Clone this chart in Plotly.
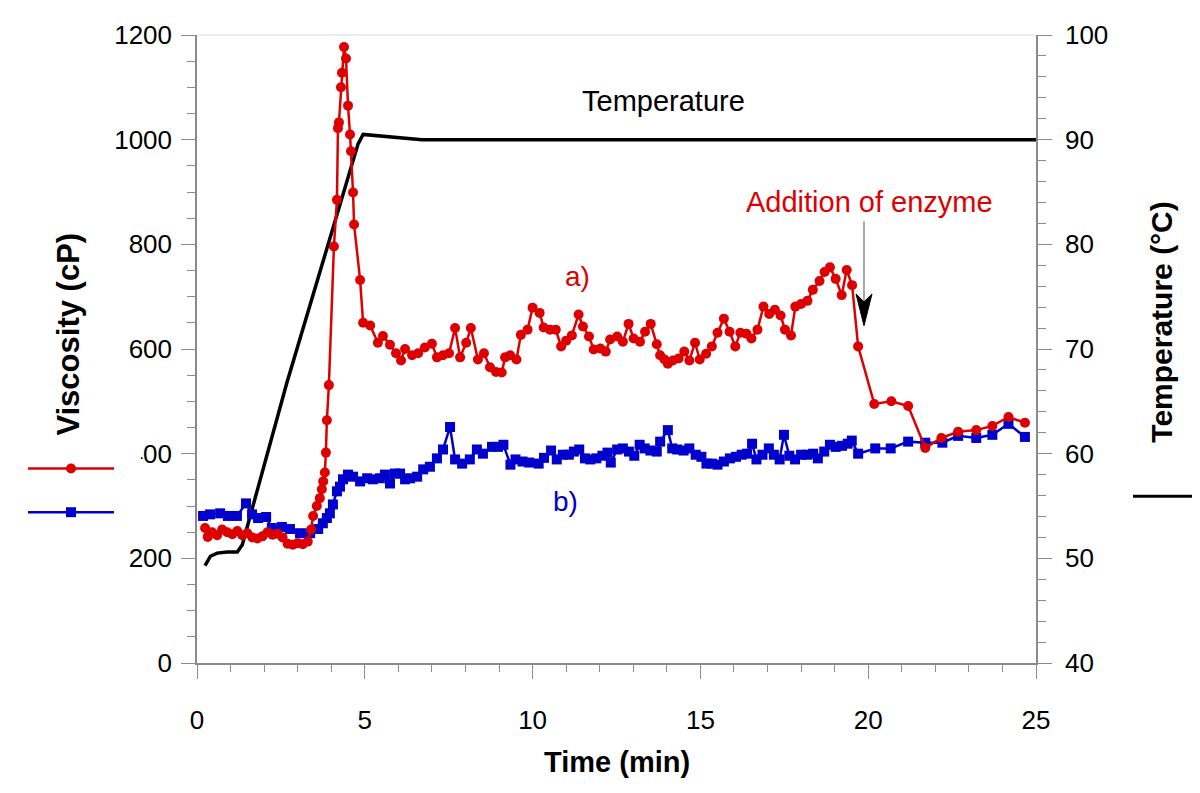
import plotly.graph_objects as go

# a) viscosity (cP) vs time (min)
time_a = [0.24, 0.32, 0.45, 0.6, 0.75, 0.9, 1.05, 1.2, 1.35, 1.5, 1.65, 1.8, 1.95, 2.1, 2.25,
          2.4, 2.55, 2.7, 2.85, 3.0, 3.15, 3.3, 3.4, 3.46, 3.57, 3.66, 3.72, 3.76, 3.81, 3.84,
          3.87, 3.93, 4.08, 4.17, 4.2, 4.23, 4.29, 4.32, 4.38, 4.44, 4.5, 4.56, 4.59, 4.65,
          4.68, 4.86, 4.95, 5.16, 5.39, 5.54, 5.75, 5.93, 6.08, 6.2, 6.41, 6.59, 6.79, 7.0,
          7.15, 7.33, 7.51, 7.69, 7.84, 8.02, 8.16, 8.37, 8.55, 8.73, 8.91,
          9.08, 9.18, 9.33, 9.52, 9.65, 9.85, 10.0, 10.21, 10.33, 10.52, 10.69, 10.85, 11.0,
          11.17, 11.37, 11.5, 11.68, 11.82, 12.02, 12.18, 12.31, 12.52, 12.69, 12.86, 13.01,
          13.2, 13.35, 13.52, 13.7, 13.8, 13.93, 14.03, 14.18, 14.35, 14.52, 14.67, 14.84,
          14.98, 15.17, 15.34, 15.51, 15.7, 15.87, 16.04, 16.19, 16.37, 16.52, 16.7, 16.88,
          17.05, 17.22, 17.39, 17.52, 17.7, 17.83, 18.0, 18.19, 18.35, 18.55, 18.7, 18.86,
          19.03, 19.21, 19.36, 19.52, 19.7, 20.18, 20.69, 21.19, 21.7, 22.18, 22.68, 23.22,
          23.7, 24.18, 24.67]
visc_a = [258, 241, 250, 244, 255, 250, 246, 252, 244, 248, 240, 238, 242, 250, 245,
          247, 240, 228, 226, 229, 227, 232, 255, 281, 300, 315, 332, 347, 364, 402,
          464, 531, 796, 885, 1022, 1033, 1100, 1128, 1177, 1155, 1065, 1010, 978, 899,
          838, 732, 650, 645, 612, 625, 608, 592, 578, 600, 588, 592, 603, 610,
          584, 588, 592, 640, 584, 612, 640, 580, 592, 565, 556,
          555, 584, 588, 580, 627, 637, 679, 669, 641, 637, 637, 605, 616,
          626, 666, 643, 624, 599, 601, 595, 618, 624, 614, 648, 620,
          614, 633, 648, 609, 588, 580, 572, 578, 582, 595, 578, 612,
          580, 591, 605, 631, 658, 633, 605, 631, 629, 620, 637, 681,
          667, 675, 664, 637, 626, 681, 686, 692, 713, 730, 747, 756,
          734, 703, 751, 722, 605, 495, 500, 491, 411, 430, 442, 445,
          453, 470, 459]

# b) viscosity (cP) vs time (min)
time_b = [0.18, 0.39, 0.69, 0.92, 1.19, 1.46, 1.64, 1.82, 2.06, 2.23, 2.53, 2.77, 3.07, 3.37,
          3.61, 3.75, 3.87, 3.96, 4.05, 4.17, 4.26, 4.35, 4.5, 4.65, 4.86, 5.07, 5.24, 5.45,
          5.6, 5.75, 5.9, 6.05, 6.2, 6.35, 6.56, 6.74, 6.94, 7.15, 7.33, 7.54, 7.69, 7.9,
          8.13, 8.34, 8.52, 8.79, 8.97, 9.13, 9.34, 9.49, 9.7, 9.9, 10.18, 10.34, 10.55,
          10.72, 10.9, 11.08, 11.23, 11.39, 11.56, 11.72, 11.9, 12.08, 12.23, 12.33, 12.52,
          12.69, 12.87, 13.03, 13.19, 13.34, 13.51, 13.7, 13.8, 14.03, 14.16, 14.31, 14.5,
          14.67, 14.86, 15.03, 15.18, 15.34, 15.51, 15.7, 15.88, 16.06, 16.23, 16.39, 16.54,
          16.67, 16.85, 17.04, 17.19, 17.36, 17.49, 17.65, 17.82, 18.0, 18.18, 18.36, 18.5,
          18.69, 18.86, 19.03, 19.22, 19.39, 19.51, 19.7, 20.21, 20.67, 21.19, 21.7, 22.21,
          22.68, 23.22, 23.7, 24.18, 24.67]
visc_b = [281, 284, 286, 281, 281, 305, 284, 277, 279, 258, 260, 256, 248, 248,
          256, 267, 277, 286, 303, 328, 337, 351, 360, 356, 347, 353, 351, 353,
          360, 343, 362, 362, 351, 353, 356, 370, 375, 391, 408, 451, 389, 381,
          389, 408, 400, 413, 413, 417, 379, 389, 385, 383, 381, 392, 406,
          389, 398, 398, 404, 408, 391, 389, 391, 396, 402, 383, 408,
          410, 404, 396, 417, 410, 406, 404, 423, 445, 410, 408, 406,
          410, 398, 394, 381, 381, 379, 385, 391, 394, 398, 400, 419,
          389, 398, 410, 398, 389, 436, 396, 389, 398, 398, 400, 391,
          404, 417, 413, 415, 419, 425, 400, 410, 410, 423, 421, 421,
          434, 430, 436, 457, 432]

# temperature (°C) vs time (min)
time_temp = [0.24, 0.4, 0.6, 0.9, 1.2, 1.35, 2.68, 4.8, 4.95, 5.3, 6.0, 6.7, 12.0, 19.5, 20.0, 20.5, 25.0]
temp = [49.3, 50.2, 50.5, 50.6, 50.6, 51.3, 66.8, 89.6, 90.5, 90.4, 90.15, 90.0, 90.0, 90.0, 89.95, 90.0, 90.0]

x_ticks = [0, 5, 10, 15, 20, 25]
visc_ticks = [0, 200, 400, 600, 800, 1000, 1200]
temp_ticks = [40, 50, 60, 70, 80, 90, 100]

RED = "#dd0000"
BLUE = "#0000cc"
GREY = "#8a8a8a"
FONT = "Arial, 'Liberation Sans', sans-serif"

# plot area in page pixels (page body has an 8px margin)
OFF = 8
L, R, T, B = 197, 1036, 30, 663


def px(x):
    return (x - L) / (R - L)


def py(y):
    return (B - y) / (B - T)


fig = go.Figure()

fig.add_trace(go.Scatter(x=time_temp, y=temp, yaxis="y", mode="lines",
                         line=dict(color="black", width=3.5), name="Temperature"))
fig.add_trace(go.Scatter(x=time_b, y=visc_b, yaxis="y2", mode="lines+markers",
                         line=dict(color=BLUE, width=2.5),
                         marker=dict(symbol="square", size=10, color=BLUE), name="b)"))
fig.add_trace(go.Scatter(x=time_a, y=visc_a, yaxis="y2", mode="lines+markers",
                         line=dict(color=RED, width=2.5),
                         marker=dict(symbol="circle", size=10, color=RED), name="a)"))

tickfont = dict(family=FONT, size=26, color="black")

# arrow pointing at the enzyme addition (gray shaft, black head)
ax_x = px(864)
head = (f"M {ax_x},{py(323)} L {px(856)},{py(291)} L {ax_x},{py(299)} "
        f"L {px(872)},{py(291)} Z")

shapes = [
    # faint top frame
    dict(type="line", xref="paper", yref="paper", x0=0, x1=1, y0=1, y1=1,
         line=dict(color="#dadada", width=1)),
    # legend box (white) partly hiding the 400 label
    dict(type="rect", xref="paper", yref="paper", x0=px(0), x1=px(141), y0=py(532), y1=py(441),
         fillcolor="white", line=dict(width=0), layer="above"),
    # legend samples
    dict(type="line", xref="paper", yref="paper", x0=px(28), x1=px(114), y0=py(467), y1=py(467),
         line=dict(color=RED, width=2.5), layer="above"),
    dict(type="circle", xref="paper", yref="paper", x0=px(66), x1=px(76), y0=py(472), y1=py(462),
         fillcolor=RED, line=dict(color=RED, width=0), layer="above"),
    dict(type="line", xref="paper", yref="paper", x0=px(28), x1=px(114), y0=py(511), y1=py(511),
         line=dict(color=BLUE, width=2.5), layer="above"),
    dict(type="rect", xref="paper", yref="paper", x0=px(66), x1=px(76), y0=py(516), y1=py(506),
         fillcolor=BLUE, line=dict(color=BLUE, width=0), layer="above"),
    dict(type="line", xref="paper", yref="paper", x0=px(1133), x1=px(1196), y0=py(495), y1=py(495),
         line=dict(color="black", width=3), layer="above"),
    # enzyme arrow
    dict(type="line", xref="paper", yref="paper", x0=ax_x, x1=ax_x, y0=py(218), y1=py(300),
         line=dict(color="#7a7a7a", width=1.3), layer="above"),
    dict(type="path", xref="paper", yref="paper", path=head,
         fillcolor="black", line=dict(color="black", width=1), layer="above"),
]

ann = dict(showarrow=False, xanchor="center", yanchor="middle")
annotations = [
    dict(text="Temperature", x=13.9, y=1073, xref="x", yref="y2",
         font=dict(family=FONT, size=29, color="black"), **ann),
    dict(text="a)", x=11.35, y=739, xref="x", yref="y2",
         font=dict(family=FONT, size=28, color=RED), **ann),
    dict(text="b)", x=10.97, y=309, xref="x", yref="y2",
         font=dict(family=FONT, size=28, color=BLUE), **ann),
    dict(text="Addition of enzyme", x=20.05, y=881, xref="x", yref="y2",
         font=dict(family=FONT, size=29, color=RED), **ann),
    dict(text="<b>Viscosity (cP)</b>", x=px(69), y=py(332), xref="paper", yref="paper",
         textangle=-90, font=dict(family=FONT, size=31, color="black"), **ann),
    dict(text="<b>Temperature (°C)</b>", x=px(1162), y=py(320), xref="paper", yref="paper",
         textangle=-90, font=dict(family=FONT, size=30, color="black"), **ann),
    dict(text="<b>Time (min)</b>", x=0.5, y=py(763), xref="paper", yref="paper",
         font=dict(family=FONT, size=29, color="black"), **ann),
]

fig.update_layout(
    width=1200, height=793,
    margin=dict(l=L - OFF, r=1200 - (R - OFF), t=T - OFF, b=793 - (B - OFF)),
    paper_bgcolor="white", plot_bgcolor="white",
    showlegend=False,
    xaxis=dict(range=[0, 25], tickvals=x_ticks, showgrid=False, zeroline=False,
               showline=True, linecolor=GREY, linewidth=1.5,
               ticks="outside", ticklen=14, tickcolor=GREY, tickwidth=1.2,
               minor=dict(dtick=1, ticks="outside", ticklen=7, tickcolor=GREY, tickwidth=1),
               tickfont=tickfont, ticklabelstandoff=19),
    yaxis=dict(range=[40, 100], tickvals=temp_ticks, side="right", showgrid=False, zeroline=False,
               showline=True, linecolor=GREY, linewidth=1.5,
               ticks="outside", ticklen=14, tickcolor=GREY, tickwidth=1.2,
               minor=dict(dtick=2, ticks="outside", ticklen=8, tickcolor=GREY, tickwidth=1),
               tickfont=tickfont, ticklabelstandoff=8),
    yaxis2=dict(range=[0, 1200], tickvals=visc_ticks, side="left", overlaying="y",
                showgrid=False, zeroline=False,
                showline=True, linecolor=GREY, linewidth=1.5,
                ticks="outside", ticklen=14, tickcolor=GREY, tickwidth=1.2,
                minor=dict(dtick=50, ticks="outside", ticklen=8, tickcolor=GREY, tickwidth=1),
                tickfont=tickfont, ticklabelstandoff=4),
    shapes=shapes,
    annotations=annotations,
)

fig.write_html("out.html")
